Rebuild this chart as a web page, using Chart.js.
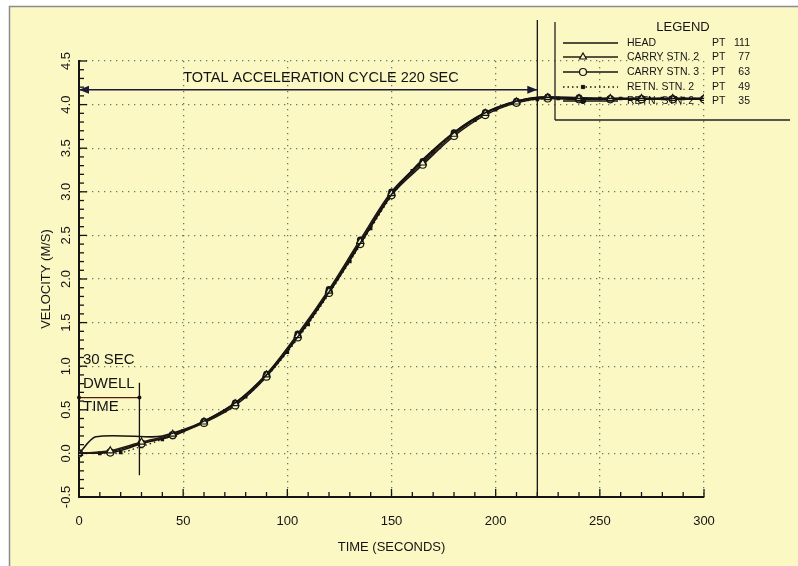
<!DOCTYPE html>
<html>
<head>
<meta charset="utf-8">
<script src="https://cdn.jsdelivr.net/npm/chart.js@4.4.1/dist/chart.umd.min.js"></script>
<style>
  html, body { margin: 0; padding: 0; background: #fff; }
  #wrap { width: 798px; height: 566px; position: relative; }
</style>
</head>
<body>
<div id="wrap"><canvas id="chart"></canvas></div>
<script>
// ---- data ----
const headT = [0, 8, 35, 40, 50, 60, 70, 80, 90, 100, 110, 120, 130, 140, 150, 160, 170, 180, 190, 200, 210, 220, 230, 240, 260, 280, 300];
const headV = [0, 0.19, 0.19, 0.2, 0.27, 0.37, 0.5, 0.67, 0.9, 1.18, 1.5, 1.85, 2.22, 2.6, 2.97, 3.25, 3.48, 3.68, 3.84, 3.96, 4.04, 4.08, 4.08, 4.07, 4.07, 4.07, 4.07];

const stnT = [0, 15, 30, 45, 60, 75, 90, 105, 120, 135, 150, 165, 180, 195, 210, 225, 240, 255, 270, 285, 300];
const carry2V = [0, 0.03, 0.13, 0.22, 0.36, 0.57, 0.9, 1.35, 1.86, 2.43, 2.98, 3.33, 3.66, 3.9, 4.03, 4.08, 4.07, 4.07, 4.07, 4.07, 4.07];
const carry3V = [0, 0.01, 0.11, 0.21, 0.35, 0.55, 0.88, 1.33, 1.84, 2.4, 2.96, 3.31, 3.64, 3.88, 4.02, 4.07, 4.06, 4.06, 4.06, 4.06, 4.06];
const retn35V = [0, 0.02, 0.12, 0.2, 0.37, 0.58, 0.91, 1.37, 1.88, 2.45, 3.0, 3.35, 3.68, 3.91, 4.04, 4.09, 4.08, 4.07, 4.07, 4.07, 4.07];

const retnT = [0, 10, 20, 30, 40, 50, 60, 70, 80, 90, 100, 110, 120, 130, 140, 150, 160, 170, 180, 190, 200, 210, 220, 230, 240, 250, 260, 270, 280, 290, 300];
const retn49V = [0, 0, 0.01, 0.08, 0.16, 0.26, 0.36, 0.49, 0.65, 0.88, 1.16, 1.48, 1.83, 2.2, 2.58, 2.95, 3.24, 3.46, 3.67, 3.82, 3.94, 4.02, 4.06, 4.07, 4.07, 4.07, 4.07, 4.07, 4.07, 4.07, 4.07];

const legendLabels = ['HEAD', 'CARRY STN. 2', 'CARRY STN. 3', 'RETN. STN. 2', 'RETN. STN. 2'];
const legendPts = ['111', '77', '63', '49', '35'];

// annotations (data units)
const cycleSpan = [0, 220];
const cycleLevel = 4.17;
const cycleMarkTop = 4.97;
const cycleText = 'TOTAL ACCELERATION CYCLE 220 SEC';
const cycleTextAt = [50, 4.31];
const dwellSpan = [0, 29];
const dwellLevel = 0.64;
const dwellMark = [-0.25, 0.81];
const dwellText = ['30 SEC', 'DWELL', 'TIME'];
const dwellTextLevels = [1.07, 0.8, 0.53];

const BG = '#fbf8c4';
const INK = '#141414';
const FONT = '"Liberation Sans", Arial, sans-serif';

function pts(t, v) { return t.map((x, i) => ({ x: x, y: v[i] })); }

const datasets = [
  { label: legendLabels[0], data: pts(headT, headV), borderColor: INK, borderWidth: 1.6, pointRadius: 0, tension: 0.25, cubicInterpolationMode: 'default' },
  { label: legendLabels[1], data: pts(stnT, carry2V), borderColor: '#2a1a10', borderWidth: 1.5,
    pointStyle: 'triangle', pointRadius: 4, pointBackgroundColor: BG, pointBorderColor: INK, pointBorderWidth: 1.2 },
  { label: legendLabels[2], data: pts(stnT, carry3V), borderColor: INK, borderWidth: 1.5,
    pointStyle: 'circle', pointRadius: 3.5, pointBackgroundColor: BG, pointBorderColor: INK, pointBorderWidth: 1.2 },
  { label: legendLabels[3], data: pts(retnT, retn49V), borderColor: INK, borderWidth: 1.3, borderDash: [1.5, 3],
    pointStyle: 'rect', pointRadius: 1.6, pointBackgroundColor: INK, pointBorderColor: INK },
  { label: legendLabels[4], data: pts(stnT, retn35V), borderColor: INK, borderWidth: 1.5,
    pointStyle: 'circle', pointRadius: 2.6, pointBackgroundColor: INK, pointBorderColor: INK }
];

const bgPlugin = {
  id: 'bg',
  beforeDraw(chart) {
    const { ctx, width, height } = chart;
    ctx.save();
    ctx.fillStyle = '#fff';
    ctx.fillRect(0, 0, width, height);
    ctx.fillStyle = BG;
    ctx.fillRect(9, 6, width - 9, height - 6);
    ctx.strokeStyle = '#8c8c8c';
    ctx.lineWidth = 1.5;
    ctx.beginPath();
    ctx.moveTo(9.5, height);
    ctx.lineTo(9.5, 6.5);
    ctx.lineTo(width, 6.5);
    ctx.stroke();
    ctx.restore();
  }
};

function line(ctx, x1, y1, x2, y2) {
  ctx.beginPath();
  ctx.moveTo(x1, y1);
  ctx.lineTo(x2, y2);
  ctx.stroke();
}

function arrowHead(ctx, x, y, dir) {
  ctx.beginPath();
  ctx.moveTo(x, y);
  ctx.lineTo(x - dir * 10, y - 4);
  ctx.lineTo(x - dir * 10, y + 4);
  ctx.closePath();
  ctx.fill();
}

const decorPlugin = {
  id: 'decor',
  afterDatasetsDraw(chart) {
    const { ctx, scales: { x, y }, chartArea: a } = chart;
    ctx.save();
    // inward tick marks
    ctx.strokeStyle = INK;
    ctx.lineWidth = 1.3;
    for (let t = 10; t <= 300; t += 10) {
      const px = x.getPixelForValue(t);
      line(ctx, px, a.bottom, px, a.bottom - (t % 50 === 0 ? 8 : 5));
    }
    for (let i = 1; i <= 50; i++) {
      const py = y.getPixelForValue(-0.5 + i * 0.1);
      line(ctx, a.left, py, a.left + (i % 5 === 0 ? 8 : 5), py);
    }
    // rotated y tick labels
    ctx.fillStyle = INK;
    ctx.font = '13px ' + FONT;
    ctx.textAlign = 'center';
    ctx.textBaseline = 'middle';
    y.ticks.forEach(tk => {
      const py = y.getPixelForValue(tk.value);
      ctx.save();
      ctx.translate(66, py);
      ctx.rotate(-Math.PI / 2);
      ctx.fillText(Number(tk.value).toFixed(1), 0, 0);
      ctx.restore();
    });

    // total acceleration cycle
    ctx.strokeStyle = '#1a1a38';
    ctx.fillStyle = '#1a1a38';
    ctx.lineWidth = 1.6;
    const cx1 = x.getPixelForValue(cycleSpan[0]), cx2 = x.getPixelForValue(cycleSpan[1]);
    const cy = y.getPixelForValue(cycleLevel);
    line(ctx, cx1, cy, cx2, cy);
    arrowHead(ctx, cx1, cy, -1);
    arrowHead(ctx, cx2, cy, 1);
    ctx.strokeStyle = INK;
    ctx.lineWidth = 1.3;
    line(ctx, cx2, a.bottom, cx2, y.getPixelForValue(cycleMarkTop));
    ctx.fillStyle = INK;
    ctx.font = '14.5px ' + FONT;
    ctx.textAlign = 'left';
    ctx.fillText(cycleText, x.getPixelForValue(cycleTextAt[0]), y.getPixelForValue(cycleTextAt[1]));

    // dwell time
    ctx.font = '15px ' + FONT;
    const dx1 = x.getPixelForValue(dwellSpan[0]), dx2 = x.getPixelForValue(dwellSpan[1]);
    const dy = y.getPixelForValue(dwellLevel);
    ctx.strokeStyle = '#5a1a10';
    line(ctx, dx1, dy, dx2, dy);
    ctx.fillStyle = INK;
    [dx1, dx2].forEach(px => { ctx.beginPath(); ctx.arc(px, dy, 2, 0, Math.PI * 2); ctx.fill(); });
    ctx.strokeStyle = INK;
    line(ctx, dx2, y.getPixelForValue(dwellMark[0]), dx2, y.getPixelForValue(dwellMark[1]));
    dwellText.forEach((s, i) => ctx.fillText(s, dx1 + 4, y.getPixelForValue(dwellTextLevels[i])));

    // legend block
    ctx.strokeStyle = '#222';
    ctx.lineWidth = 1.3;
    line(ctx, 555, 22, 555, 120);
    line(ctx, 555, 120, 790, 120);
    ctx.font = '13px ' + FONT;
    ctx.textAlign = 'center';
    ctx.fillText('LEGEND', 683, 27);
    const rows = [43, 57, 72, 87, 101];
    ctx.font = '10.5px ' + FONT;
    chart.data.datasets.forEach((ds, i) => {
      const ry = rows[i];
      ctx.save();
      ctx.strokeStyle = ds.borderColor;
      ctx.lineWidth = ds.borderWidth;
      ctx.setLineDash(ds.borderDash || []);
      line(ctx, 563, ry, 618, ry);
      ctx.restore();
      if (ds.pointRadius > 0) {
        ctx.save();
        ctx.fillStyle = ds.pointBackgroundColor;
        ctx.strokeStyle = ds.pointBorderColor;
        ctx.lineWidth = ds.pointBorderWidth || 1;
        ctx.beginPath();
        if (ds.pointStyle === 'triangle') {
          const r = ds.pointRadius;
          ctx.moveTo(583, ry - r);
          ctx.lineTo(583 + r * 0.87, ry + r * 0.5);
          ctx.lineTo(583 - r * 0.87, ry + r * 0.5);
          ctx.closePath();
        } else if (ds.pointStyle === 'rect') {
          ctx.rect(583 - 1.6, ry - 1.6, 3.2, 3.2);
        } else {
          ctx.arc(583, ry, ds.pointRadius, 0, Math.PI * 2);
        }
        ctx.fill();
        ctx.stroke();
        ctx.restore();
      }
      ctx.fillStyle = INK;
      ctx.textAlign = 'left';
      ctx.fillText(ds.label, 627, ry);
      ctx.fillText('PT', 712, ry);
      ctx.textAlign = 'right';
      ctx.fillText(legendPts[i], 750, ry);
    });
    ctx.restore();
  }
};

new Chart(document.getElementById('chart').getContext('2d'), {
  type: 'line',
  data: { datasets: datasets },
  options: {
    responsive: true,
    maintainAspectRatio: false,
    animation: false,
    layout: { padding: { top: 61, right: 94, left: 0, bottom: 0 } },
    elements: { line: { cubicInterpolationMode: 'monotone' } },
    plugins: { legend: { display: false }, tooltip: { enabled: false } },
    scales: {
      x: {
        type: 'linear',
        min: 0,
        max: 300,
        afterFit: s => { s.height = 69; },
        ticks: { stepSize: 50, color: INK, font: { family: FONT, size: 13 }, padding: 17 },
        grid: {
          drawTicks: false,
          lineWidth: 1.3,
          color: c => (c.tick && c.tick.value === 0 ? 'rgba(0,0,0,0)' : '#5f7f66')
        },
        border: { display: true, color: INK, width: 2, dash: [1.3, 4.7] },
        title: { display: true, text: 'TIME (SECONDS)', color: INK, font: { family: FONT, size: 13 }, padding: { bottom: 11 } }
      },
      y: {
        min: -0.5,
        max: 4.5,
        afterFit: s => { s.width = 79; },
        ticks: { stepSize: 0.5, display: false },
        grid: {
          drawTicks: false,
          lineWidth: 1.3,
          color: c => (c.tick && c.tick.value === -0.5 ? 'rgba(0,0,0,0)' : '#5f7f66')
        },
        border: { display: true, color: INK, width: 2, dash: [1.3, 4.7] },
        title: { display: true, text: 'VELOCITY (M/S)', color: INK, font: { family: FONT, size: 13 }, padding: { top: 39 } }
      }
    }
  },
  plugins: [bgPlugin, decorPlugin]
});
</script>
</body>
</html>
